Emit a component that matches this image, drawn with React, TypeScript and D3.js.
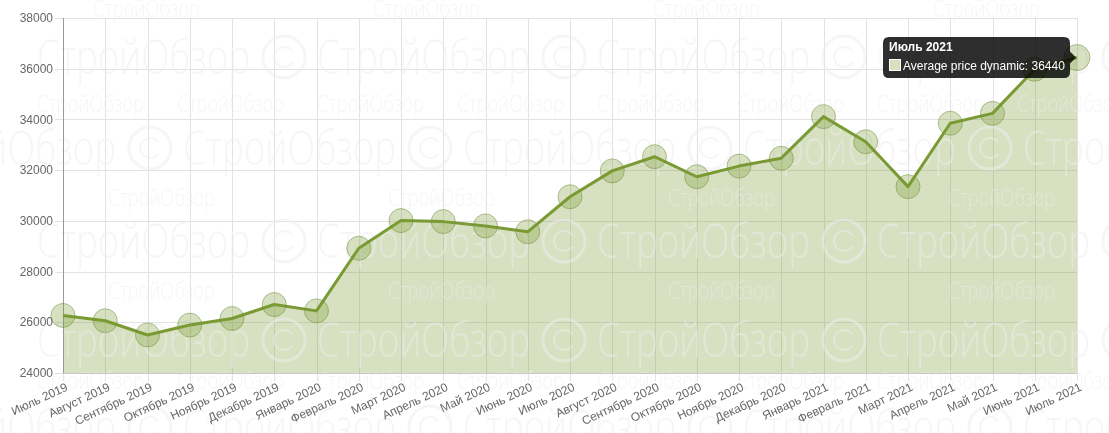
import React from "react";
import * as d3 from "d3";

const labels = ["Июль 2019","Август 2019","Сентябрь 2019","Октябрь 2019","Ноябрь 2019","Декабрь 2019","Январь 2020","Февраль 2020","Март 2020","Апрель 2020","Май 2020","Июнь 2020","Июль 2020","Август 2020","Сентябрь 2020","Октябрь 2020","Ноябрь 2020","Декабрь 2020","Январь 2021","Февраль 2021","Март 2021","Апрель 2021","Май 2021","Июнь 2021","Июль 2021"];
const values = [26270, 26060, 25500, 25890, 26150, 26700, 26450, 28920, 30010, 29970, 29800, 29570, 30950, 31970, 32530, 31740, 32160, 32470, 34110, 33120, 31350, 33850, 34240, 35980, 36440];
const yTicks = [24000, 26000, 28000, 30000, 32000, 34000, 36000, 38000];
const seriesName = "Average price dynamic";
const hoverIndex = 24;

const W = 1109, H = 433;
const left = 63, right = 1077, top = 18, bottom = 373;

const wmLarge = [
  { y: 57, start: 37 },
  { y: 148, start: -97 },
  { y: 241, start: 37 },
  { y: 340, start: 37 },
  { y: 427, start: -97 },
];
const wmSmall = [
  { y: 8, start: 93, period: 280 },
  { y: 103, start: 37, period: 140 },
  { y: 197, start: 108, period: 280 },
  { y: 290, start: 108, period: 280 },
  { y: 380, start: 37, period: 140 },
];

export default function App() {
  const x = d3.scalePoint<string>().domain(labels).range([left, right]);
  const y = d3.scaleLinear().domain([24000, 38000]).range([bottom, top]);
  const pts = values.map((v, i) => [x(labels[i]) as number, y(v)] as [number, number]);
  const line = d3.line<[number, number]>().x(d => d[0]).y(d => d[1]);
  const area = d3.area<[number, number]>().x(d => d[0]).y0(bottom).y1(d => d[1]);

  const green = "#7a9a34";
  const font = "'Liberation Sans', Arial, Helvetica, sans-serif";

  const wm: JSX.Element[] = [];
  wmLarge.forEach((r, ri) => {
    for (let s = r.start; s < W + 50; s += 280) {
      wm.push(
        <text key={`L${ri}-${s}`} x={s} y={r.y + 17} fontSize={48} fontFamily="'Open Sans', sans-serif" fontWeight={300}
          textLength={213} lengthAdjust="spacingAndGlyphs">СтройОбзор</text>
      );
      const cx = s + 247;
      wm.push(
        <g key={`C${ri}-${s}`}>
          <circle cx={cx} cy={r.y} r={21} fill="none" stroke="#ececec" strokeWidth={3} />
          <path d={d3.arc()({ innerRadius: 9, outerRadius: 11, startAngle: 0.6, endAngle: 2 * Math.PI - 0.6 }) as string}
            transform={`translate(${cx},${r.y}) rotate(90)`} />
        </g>
      );
    }
  });
  wmSmall.forEach((r, ri) => {
    for (let s = r.start; s < W; s += r.period) {
      wm.push(
        <text key={`S${ri}-${s}`} x={s} y={r.y + 9} fontSize={24} fontFamily="'Open Sans', sans-serif" fontWeight={300}
          textLength={107} lengthAdjust="spacingAndGlyphs">СтройОбзор</text>
      );
    }
  });

  const [hx, hy] = pts[hoverIndex];
  const boxR = hx - 7, boxL = 883, boxT = 37, boxB = 78;

  return (
    <div style={{ position: "absolute", left: 0, top: 0, width: W, height: H, background: "#fff" }}>
      <svg width={W} height={H} style={{ display: "block" }}>
        <rect width={W} height={H} fill="#fff" />
        {/* grid */}
        <g stroke="#e2e2e2" strokeWidth={1}>
          {yTicks.map(t => (
            <line key={t} x1={left - 8} x2={right} y1={Math.round(y(t)) + 0.5} y2={Math.round(y(t)) + 0.5} />
          ))}
          {labels.map(l => (
            <line key={l} x1={Math.round(x(l) as number) + 0.5} x2={Math.round(x(l) as number) + 0.5} y1={top} y2={bottom + 8} />
          ))}
        </g>
        <path d={area(pts) as string} fill={green} fillOpacity={0.3} />
        <g fill="#ececec" opacity={0.5}>{wm}</g>
        <line x1={left + 0.5} x2={left + 0.5} y1={top} y2={bottom} stroke="#9a9a9a" />
        <line x1={left} x2={right} y1={bottom + 0.5} y2={bottom + 0.5} stroke="#c8c8c8" />
        <path d={line(pts) as string} fill="none" stroke={green} strokeWidth={3} strokeLinejoin="round" />
        {pts.map((p, i) => (
          <circle key={i} cx={p[0]} cy={p[1]} r={i === hoverIndex ? 13 : 12} fill={green} fillOpacity={0.3}
            stroke="#6f8a35" strokeOpacity={0.5} strokeWidth={1} />
        ))}
        {/* axis labels */}
        <g fontFamily={font} fontSize={12} fill="#666">
          {yTicks.map(t => (
            <text key={t} x={53} y={y(t)} dy="0.35em" textAnchor="end">{t}</text>
          ))}
          {labels.map(l => (
            <text key={l} transform={`translate(${(x(l) as number) + 2},${bottom + 9}) rotate(-25)`} textAnchor="end" dy="0.72em">{l}</text>
          ))}
        </g>
        {/* tooltip */}
        <g fontFamily={font} fontSize={12}>
          <path d={`M${boxL + 6},${boxT} H${boxR - 6} Q${boxR},${boxT} ${boxR},${boxT + 6} V${hy - 6} L${hx - 1},${hy} L${boxR},${hy + 6} V${boxB - 6} Q${boxR},${boxB} ${boxR - 6},${boxB} H${boxL + 6} Q${boxL},${boxB} ${boxL},${boxB - 6} V${boxT + 6} Q${boxL},${boxT} ${boxL + 6},${boxT} Z`}
            fill="#000" fillOpacity={0.82} />
          <text x={boxL + 6} y={boxT + 14} fill="#fff" fontWeight="bold">{labels[hoverIndex]}</text>
          <rect x={boxL + 6.5} y={boxT + 22.5} width={11} height={11} fill="#d6e0bf" stroke="#fff" strokeWidth={1} />
          <text x={boxL + 20} y={boxT + 33} fill="#fff">{`${seriesName}: ${values[hoverIndex]}`}</text>
        </g>
      </svg>
    </div>
  );
}
